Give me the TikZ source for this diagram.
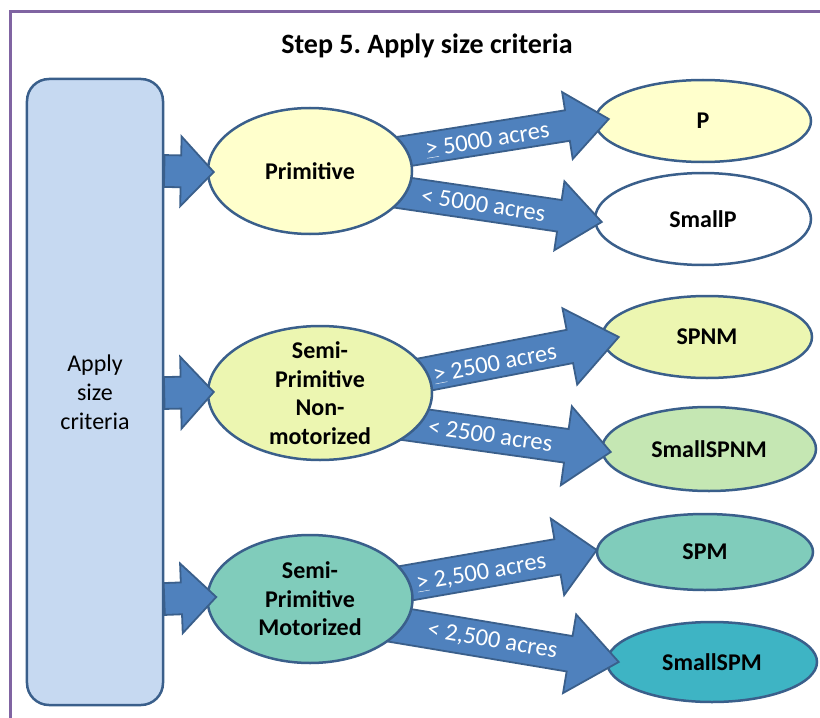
\documentclass[tikz,border=0pt]{standalone}
\usepackage{fontspec}
\setmainfont{Carlito}
\frenchspacing
\usetikzlibrary{shapes.geometric,calc}
\pgfdeclarelayer{bg}\pgfdeclarelayer{fg}\pgfsetlayers{bg,main,fg}
\definecolor{framepurple}{RGB}{128,100,162}
\definecolor{outl}{RGB}{58,95,139}
\definecolor{arrfill}{RGB}{79,129,189}
\definecolor{rectfill}{RGB}{198,217,241}
\definecolor{yel}{RGB}{255,255,204}
\definecolor{ygreen}{RGB}{236,246,177}
\definecolor{lgreen}{RGB}{197,231,179}
\definecolor{teal1}{RGB}{128,204,187}
\definecolor{teal2}{RGB}{62,180,196}
\tikzset{
  basefont/.style={font=\fontsize{24bp}{29bp}\selectfont},
  ell/.style={ellipse, draw=outl, line width=2.5bp, inner xsep=0pt, inner ysep=-30bp,
    align=center, font=\fontsize{24bp}{28.5bp}\selectfont\bfseries},
  arrowsty/.style={fill=arrfill, draw=outl, line width=1.8bp, line join=miter},
  lbl/.style={text=white, inner sep=0pt, font=\fontsize{24.5bp}{29bp}\selectfont},
}
\newcommand\blockarrow[8]{%
  \path let \p1=#1, \p2=#2 in \pgfextra{%
    \pgfmathsetmacro\tmpa{atan2(\y2-\y1,\x2-\x1)}\global\let\baang\tmpa
    \pgfmathsetmacro\tmpb{veclen(\x2-\x1,\y2-\y1)}\global\let\balen\tmpb};
  \pgfmathsetmacro\bab{\balen-#5}%
  \pgfmathsetmacro\bal{#7*\balen}%
  \begin{scope}[shift={#1},rotate=\baang]
    \draw[arrowsty] (0pt,#3pt) -- (\bab pt,#3pt) -- (\bab pt,#4pt) -- (\balen pt,0pt)
      -- (\bab pt,-#4pt) -- (\bab pt,-#3pt) -- (0pt,-#3pt) -- cycle;
    \if\relax\detokenize{#6}\relax\else
      \node[lbl,rotate=\baang] at (\bal pt,#8pt) {#6};
    \fi
  \end{scope}}
\begin{document}
\begin{tikzpicture}[x=1bp,y=-1bp]
\useasboundingbox (0,0) rectangle (820,718);
\draw[framepurple, line width=3bp] (10,718) -- (10,12) -- (820,12);
\node[anchor=base, font=\fontsize{28bp}{32bp}\selectfont\bfseries] (title) at (427,54) {Step 5. Apply size criteria};
\node[draw=outl, fill=rectfill, line width=2.5bp, rounded corners=22bp, minimum width=136bp,
  minimum height=626bp, align=center, basefont] (rect) at (95,392) {Apply\\size\\criteria};
% source ellipses
\node[ell, fill=yel, minimum width=204bp, minimum height=126bp] (prim) at (310,171) {Primitive};
\node[ell, fill=ygreen, minimum width=224bp, minimum height=134bp] (semi) at (320,393) {Semi-\\Primitive\\Non-\\motorized};
\node[ell, fill=teal1, minimum width=205bp, minimum height=128bp] (mot) at (310,599) {Semi-\\Primitive\\Motorized};
\begin{pgfonlayer}{bg}
\node[ell, fill=yel, minimum width=216bp, minimum height=82bp] (P) at (703,121) {P};
\node[ell, fill=white, minimum width=216bp, minimum height=92bp] (SmallP) at (703,219) {SmallP};
\node[ell, fill=ygreen, minimum width=210bp, minimum height=82bp] (SPNM) at (707,337) {SPNM};
\node[ell, fill=lgreen, minimum width=214bp, minimum height=84bp] (SmallSPNM) at (709,449) {SmallSPNM};
\node[ell, fill=teal1, minimum width=216bp, minimum height=76bp] (SPM) at (705,552) {SPM};
\node[ell, fill=teal2, minimum width=210bp, minimum height=80bp] (SmallSPM) at (712,662) {SmallSPM};
\blockarrow{($(prim.center)+(40,-11)$)}{($(P.west)+(15,-2)$)}{15.5}{34}{42}{\underline{>} 5000 acres}{0.53}{-2}
\blockarrow{($(prim.center)+(40,14)$)}{($(SmallP.west)+(8,3)$)}{16}{35}{43}{< 5000 acres}{0.53}{0}
\blockarrow{($(semi.center)+(40,-6)$)}{($(SPNM.west)+(18,0)$)}{17}{39}{50}{\underline{>} 2500 acres}{0.52}{-3}
\blockarrow{($(semi.center)+(40,24)$)}{($(SmallSPNM.west)+(10,3)$)}{17}{40}{45}{< 2500 acres}{0.52}{0}
\blockarrow{($(mot.center)+(40,-6)$)}{($(SPM.west)+(1,-2)$)}{18}{39}{40}{\underline{>} 2,500 acres}{0.53}{-3}
\blockarrow{($(mot.center)+(40,18)$)}{($(SmallSPM.west)+(13,0)$)}{18}{40}{50}{< 2,500 acres}{0.53}{0}
\end{pgfonlayer}
\begin{pgfonlayer}{fg}
\blockarrow{(rect.east |- prim.west)}{($(prim.west)+(7,1)$)}{16}{35}{33}{}{0.5}{0}
\blockarrow{(rect.east |- semi.west)}{($(semi.west)+(7,-1)$)}{16}{36}{33}{}{0.5}{0}
\blockarrow{(rect.east |- mot.west)}{($(mot.west)+(10,-2)$)}{16}{35}{35}{}{0.5}{0}
\end{pgfonlayer}
\end{tikzpicture}
\end{document}
